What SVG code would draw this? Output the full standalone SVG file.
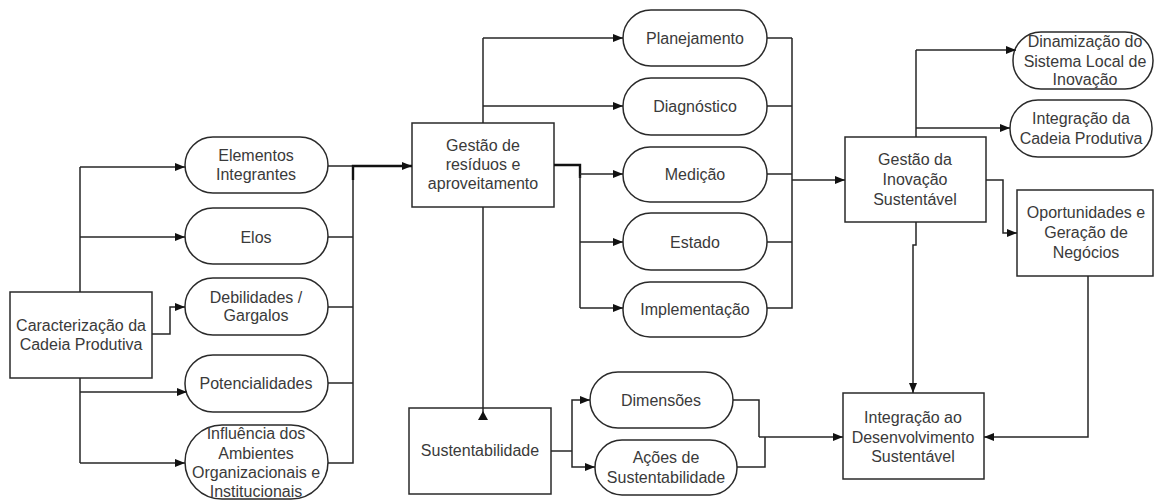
<svg xmlns="http://www.w3.org/2000/svg" width="1155" height="501" viewBox="0 0 1155 501">
  <style>
    .box { fill: #ffffff; stroke: #2a2a2a; stroke-width: 1.5; }
    .pill { fill: #ffffff; stroke: #2a2a2a; stroke-width: 1.5; }
    .ln { fill: none; stroke: #262626; stroke-width: 1.5; }
    .thick { stroke: #111111; stroke-width: 2.4; }
    .arr { marker-end: url(#head); }
    text { font-family: "Liberation Sans", Arial, sans-serif; font-size: 16px; fill: #3a3a3a; text-anchor: middle; }
  </style>
  <defs>
    <marker id="head" viewBox="0 0 10 8" refX="10" refY="4" markerWidth="10" markerHeight="8" markerUnits="userSpaceOnUse" orient="auto">
      <path d="M0,0 L10,4 L0,8 z" fill="#111111"/>
    </marker>
  </defs>
  <rect width="1155" height="501" fill="#ffffff"/>

  <g id="caracterizacao">
    <rect class="box" x="10" y="292" width="142" height="86"/>
    <text x="81" y="331">Caracterização da</text>
    <text x="81" y="350">Cadeia Produtiva</text>
  </g>
  <g id="elementos">
    <rect class="pill" x="185" y="137" width="143" height="56" rx="28"/>
    <text x="256" y="161">Elementos</text>
    <text x="256" y="180">Integrantes</text>
  </g>
  <g id="elos">
    <rect class="pill" x="185" y="208" width="143" height="56" rx="28"/>
    <text x="256" y="243">Elos</text>
  </g>
  <g id="debilidades">
    <rect class="pill" x="185" y="278" width="143" height="57" rx="28"/>
    <text x="256" y="303">Debilidades /</text>
    <text x="256" y="321">Gargalos</text>
  </g>
  <g id="potencialidades">
    <rect class="pill" x="185" y="355" width="143" height="57" rx="28"/>
    <text x="256" y="389">Potencialidades</text>
  </g>
  <g id="influencia">
    <rect class="pill" x="185" y="425" width="143" height="74" rx="37"/>
    <text x="256" y="439">Influência dos</text>
    <text x="256" y="459">Ambientes</text>
    <text x="256" y="478">Organizacionais e</text>
    <text x="256" y="497">Institucionais</text>
  </g>
  <g id="gestao-residuos">
    <rect class="box" x="412" y="123" width="142" height="84"/>
    <text x="483" y="151">Gestão de</text>
    <text x="483" y="170">resíduos e</text>
    <text x="483" y="189">aproveitamento</text>
  </g>
  <g id="planejamento">
    <rect class="pill" x="623" y="10" width="144" height="56" rx="28"/>
    <text x="695" y="44">Planejamento</text>
  </g>
  <g id="diagnostico">
    <rect class="pill" x="623" y="78" width="144" height="57" rx="28"/>
    <text x="695" y="112">Diagnóstico</text>
  </g>
  <g id="medicao">
    <rect class="pill" x="623" y="147" width="144" height="55" rx="27"/>
    <text x="695" y="180">Medição</text>
  </g>
  <g id="estado">
    <rect class="pill" x="623" y="213" width="144" height="57" rx="28"/>
    <text x="695" y="248">Estado</text>
  </g>
  <g id="implementacao">
    <rect class="pill" x="623" y="282" width="144" height="55" rx="27"/>
    <text x="695" y="315">Implementação</text>
  </g>
  <g id="sustentabilidade">
    <rect class="box" x="409" y="408" width="142" height="86"/>
    <text x="480" y="456">Sustentabilidade</text>
  </g>
  <g id="dimensoes">
    <rect class="pill" x="590" y="372" width="143" height="56" rx="28"/>
    <text x="661" y="406">Dimensões</text>
  </g>
  <g id="acoes">
    <rect class="pill" x="595" y="440" width="142" height="55" rx="27"/>
    <text x="666" y="463">Ações de</text>
    <text x="666" y="483">Sustentabilidade</text>
  </g>
  <g id="gestao-inovacao">
    <rect class="box" x="845" y="137" width="141" height="85"/>
    <text x="915" y="165">Gestão da</text>
    <text x="915" y="185">Inovação</text>
    <text x="915" y="205">Sustentável</text>
  </g>
  <g id="dinamizacao">
    <rect class="pill" x="1013" y="32" width="140" height="57" rx="28"/>
    <text x="1085" y="47">Dinamização do</text>
    <text x="1085" y="67">Sistema Local de</text>
    <text x="1085" y="85">Inovação</text>
  </g>
  <g id="integracao-cadeia">
    <rect class="pill" x="1010" y="100" width="142" height="57" rx="28"/>
    <text x="1081" y="124">Integração da</text>
    <text x="1081" y="144">Cadeia Produtiva</text>
  </g>
  <g id="oportunidades">
    <rect class="box" x="1017" y="190" width="136" height="86"/>
    <text x="1086" y="218">Oportunidades e</text>
    <text x="1086" y="238">Geração de</text>
    <text x="1086" y="258">Negócios</text>
  </g>
  <g id="integracao-desenvolvimento">
    <rect class="box" x="843" y="393" width="141" height="86"/>
    <text x="913" y="423">Integração ao</text>
    <text x="913" y="443">Desenvolvimento</text>
    <text x="913" y="462">Sustentável</text>
  </g>

  <!-- connectors, drawn over the nodes so arrowheads stay visible -->
  <g id="connectors">
    <!-- Caracterização trunk -->
    <path class="ln" d="M80,292 V167"/>
    <path class="ln arr" d="M80,167 H185"/>
    <path class="ln arr" d="M80,237 H185"/>
    <path class="ln arr" d="M152,334 H170 V307 H185"/>
    <path class="ln" d="M80,378 V463"/>
    <path class="ln arr" d="M80,392 H187"/>
    <path class="ln arr" d="M80,463 H185"/>
    <!-- left pills to Gestão de resíduos -->
    <path class="ln" d="M328,166 H353"/>
    <path class="ln" d="M328,237 H353"/>
    <path class="ln" d="M328,307 H353"/>
    <path class="ln" d="M328,383 H353"/>
    <path class="ln" d="M328,463 H353 V175"/>
    <path class="ln thick arr" d="M353,180 V166 H412"/>
    <!-- Gestão de resíduos outputs -->
    <path class="ln" d="M483,123 V38"/>
    <path class="ln arr" d="M483,38 H623"/>
    <path class="ln arr" d="M483,106 H623"/>
    <path class="ln thick" d="M554,165 H580 V178"/>
    <path class="ln" d="M580,176 V308"/>
    <path class="ln arr" d="M580,174 H623"/>
    <path class="ln arr" d="M580,242 H623"/>
    <path class="ln arr" d="M580,308 H623"/>
    <!-- Sustentabilidade link up -->
    <path class="ln" d="M483,207 V418"/>
    <path d="M483,411 L488,420 L478,420 z" fill="#111111"/>
    <!-- middle pills to Gestão da Inovação -->
    <path class="ln" d="M767,38 H792"/>
    <path class="ln" d="M767,106 H792"/>
    <path class="ln" d="M767,174 H792"/>
    <path class="ln" d="M767,242 H792"/>
    <path class="ln" d="M767,308 H792 V38"/>
    <path class="ln arr" d="M792,180 H845"/>
    <!-- Gestão da Inovação outputs -->
    <path class="ln" d="M916,137 V50"/>
    <path class="ln arr" d="M916,50 H1016"/>
    <path class="ln arr" d="M916,128 H1010"/>
    <path class="ln arr" d="M986,180 H1003 V233 H1017"/>
    <path class="ln arr" d="M916,222 V245 H913 V393"/>
    <path class="ln arr" d="M1088,276 V437 H984"/>
    <!-- Sustentabilidade outputs -->
    <path class="ln" d="M551,451 H572"/>
    <path class="ln arr" d="M572,451 V400 H590"/>
    <path class="ln arr" d="M572,451 V467 H595"/>
    <path class="ln" d="M733,400 H759 V437"/>
    <path class="ln" d="M737,467 H765 V437"/>
    <path class="ln arr" d="M759,437 H843"/>
  </g>
</svg>
